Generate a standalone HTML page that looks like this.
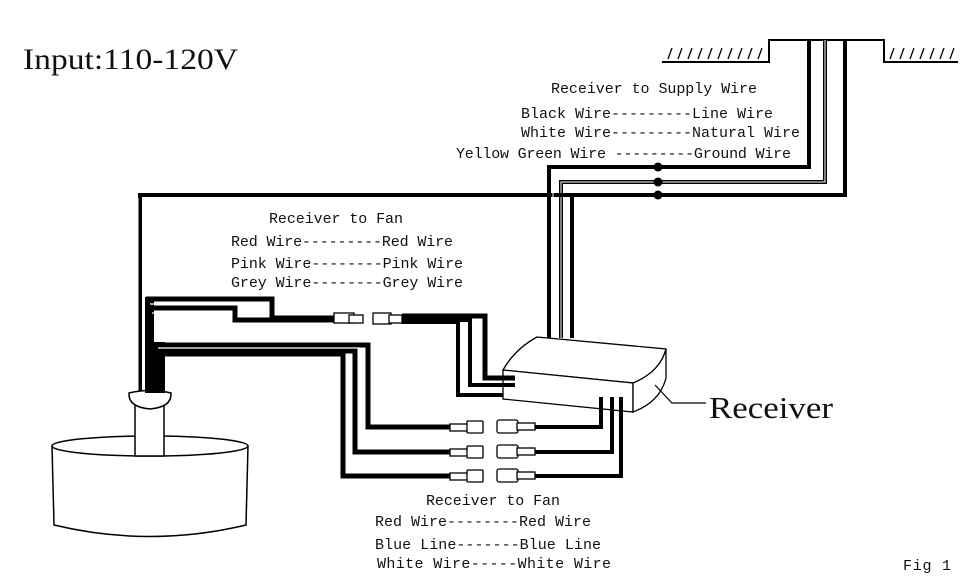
<!DOCTYPE html>
<html><head><meta charset="utf-8"><style>
html,body{margin:0;padding:0;background:#fff}
svg{display:block}
text{font-family:"Liberation Mono",monospace;fill:#111}
</style></head><body>
<svg width="972" height="585" viewBox="0 0 972 585" xmlns="http://www.w3.org/2000/svg">
<rect width="972" height="585" fill="#fff"/>
<g stroke="#000" fill="none" stroke-width="2">
<polyline points="662,62 769,62 769,40 884,40 884,62 958,62"/>
</g>
<g stroke="#000" stroke-width="1.3">
<line x1="668" y1="59" x2="672" y2="48"/><line x1="678" y1="59" x2="682" y2="48"/><line x1="688" y1="59" x2="692" y2="48"/><line x1="698" y1="59" x2="702" y2="48"/><line x1="708" y1="59" x2="712" y2="48"/><line x1="718" y1="59" x2="722" y2="48"/><line x1="728" y1="59" x2="732" y2="48"/><line x1="738" y1="59" x2="742" y2="48"/><line x1="748" y1="59" x2="752" y2="48"/><line x1="758" y1="59" x2="762" y2="48"/>
<line x1="890" y1="59" x2="894" y2="48"/><line x1="900" y1="59" x2="904" y2="48"/><line x1="910" y1="59" x2="914" y2="48"/><line x1="920" y1="59" x2="924" y2="48"/><line x1="930" y1="59" x2="934" y2="48"/><line x1="940" y1="59" x2="944" y2="48"/><line x1="950" y1="59" x2="954" y2="48"/>
</g>
<g fill="none" stroke="#000" stroke-linejoin="miter">
<polyline points="809,40 809,167 549,167 549,338" stroke-width="4"/>
<polyline points="825,40 825,182 561,182 561,338" stroke-width="4"/>
<polyline points="825,40 825,182 561,182 561,338" stroke-width="1" stroke="#fff"/>
<polyline points="845,40 845,195 140,195 140,395" stroke-width="4"/>
<polyline points="553,170 553,338" stroke-width="1" stroke="#fff"/>
<polyline points="572,195 572,338" stroke-width="4"/>
<polyline points="138,198 138,395" stroke-width="1" stroke="#fff"/>
</g>
<circle cx="658" cy="167" r="4.5"/><circle cx="658" cy="182" r="4.5"/><circle cx="658" cy="195" r="4.5"/>
<rect x="145" y="297" width="9" height="95" fill="#000"/>
<rect x="153" y="342" width="12" height="50" fill="#000"/>
<g fill="none" stroke="#000">
<polyline points="146,299 272,299 272,318 342,318" stroke-width="5"/>
<polyline points="150,308 235,308 235,320 342,320" stroke-width="5"/>
<polyline points="150,304 265,304 265,314" stroke-width="1.2" stroke="#fff"/>
<polyline points="152,313 228,313" stroke-width="1.2" stroke="#fff"/>
<polyline points="155,345 368,345 368,427 452,427" stroke-width="5"/>
<polyline points="158,351 355,351 355,452 452,452" stroke-width="5"/>
<polyline points="160,354 343,354 343,476 452,476" stroke-width="5"/>
<polyline points="158,348 360,348" stroke-width="1.2" stroke="#fff"/>
<polyline points="349,357 349,473" stroke-width="1.2" stroke="#fff"/>
<polyline points="360,355 360,449" stroke-width="1.2" stroke="#fff"/>
<polyline points="402,316 485,316 485,378 515,378" stroke-width="5"/>
<polyline points="402,320 470,320 470,385 515,385" stroke-width="4"/>
<polyline points="402,322 458,322 458,395 515,395" stroke-width="4"/>
<polyline points="462,325 462,390 515,390" stroke-width="1.2" stroke="#fff"/>
<polyline points="474,323 474,381" stroke-width="1.2" stroke="#fff"/>
<polyline points="535,427 601,427 601,397" stroke-width="4"/>
<polyline points="535,452 612,452 612,397" stroke-width="4"/>
<polyline points="535,476 621,476 621,397" stroke-width="4"/>
</g>
<g fill="#fff" stroke="#000" stroke-width="1.3">
<rect x="334" y="313" width="20" height="10"/><rect x="349" y="315" width="14" height="8"/>
<rect x="373" y="313" width="18" height="11"/><rect x="389" y="315" width="13" height="8"/>
<rect x="450" y="424" width="18" height="7"/><rect x="467" y="421" width="16" height="12" rx="1"/>
<rect x="450" y="449" width="18" height="7"/><rect x="467" y="446" width="16" height="12" rx="1"/>
<rect x="450" y="473" width="18" height="7"/><rect x="467" y="470" width="16" height="12" rx="1"/>
<rect x="497" y="420" width="21" height="13" rx="2"/><rect x="517" y="423" width="18" height="7"/>
<rect x="497" y="445" width="21" height="13" rx="2"/><rect x="517" y="448" width="18" height="7"/>
<rect x="497" y="469" width="21" height="13" rx="2"/><rect x="517" y="472" width="18" height="7"/>
</g>
<g fill="#fff" stroke="#000" stroke-width="1.3">
<path d="M503,370 Q515,349 537,337 L666,349 Q660,372 633,383 L503,370 Z"/>
<path d="M503,370 L633,383 L633,412 L503,399 Z"/>
<path d="M666,349 L666,378 Q660,402 633,412 L633,383 Q660,372 666,349 Z"/>
</g>
<g fill="none" stroke="#000">
<line x1="503" y1="378" x2="515" y2="378" stroke-width="5"/>
<line x1="503" y1="385" x2="515" y2="385" stroke-width="4"/>
<polyline points="655,385 672,403 706,403" stroke-width="1.2"/>
<line x1="601" y1="397" x2="601" y2="410" stroke-width="4"/>
<line x1="612" y1="397" x2="612" y2="411" stroke-width="4"/>
<line x1="621" y1="397" x2="621" y2="412" stroke-width="4"/>
</g>
<g fill="#fff" stroke="#000" stroke-width="1.5">
<path d="M52,446 L54,525 Q150,548 246,525 L248,446"/>
<ellipse cx="150" cy="446" rx="98" ry="10"/>
<rect x="135" y="405" width="29" height="51"/>
<path d="M129,393 Q128,407 150,409 Q172,407 171,393 Q150,388 129,393 Z"/>
</g>
<rect x="145" y="385" width="20" height="8" fill="#000"/>
<text x="23" y="69" font-size="30" textLength="215" lengthAdjust="spacingAndGlyphs" style="font-family:'Liberation Serif',serif">Input:110-120V</text>
<text x="551" y="93" font-size="15" textLength="206">Receiver to Supply Wire</text>
<text x="521" y="118" font-size="15" textLength="252">Black Wire---------Line Wire</text>
<text x="521" y="137" font-size="15" textLength="279">White Wire---------Natural Wire</text>
<text x="456" y="158" font-size="15" textLength="335">Yellow Green Wire ---------Ground Wire</text>
<text x="269" y="223" font-size="15" textLength="134">Receiver to Fan</text>
<text x="231" y="246" font-size="15" textLength="222">Red Wire---------Red Wire</text>
<text x="231" y="268" font-size="15" textLength="232">Pink Wire--------Pink Wire</text>
<text x="231" y="287" font-size="15" textLength="232">Grey Wire--------Grey Wire</text>
<text x="426" y="505" font-size="15" textLength="134">Receiver to Fan</text>
<text x="375" y="526" font-size="15" textLength="216">Red Wire--------Red Wire</text>
<text x="375" y="549" font-size="15" textLength="226">Blue Line-------Blue Line</text>
<text x="377" y="568" font-size="15" textLength="234">White Wire-----White Wire</text>
<text x="709" y="418" font-size="31" textLength="124" lengthAdjust="spacingAndGlyphs" style="font-family:'Liberation Serif',serif">Receiver</text>
<text x="903" y="570" font-size="15" textLength="48">Fig 1</text>
</svg>
</body></html>
